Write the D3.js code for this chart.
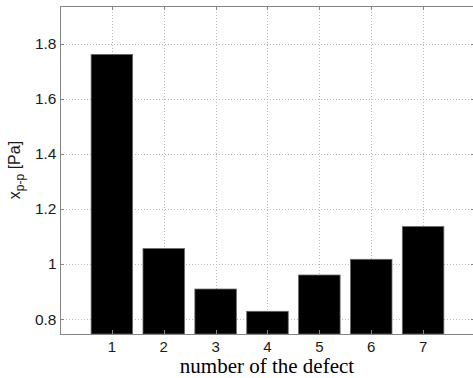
<!DOCTYPE html>
<html><head><meta charset="utf-8">
<script src="https://cdn.jsdelivr.net/npm/d3@7"></script>
<style>body{margin:0;background:#fff}svg{display:block}</style>
</head><body>
<script>
const categories = [1, 2, 3, 4, 5, 6, 7];
const values = [1.762, 1.056, 0.909, 0.828, 0.960, 1.017, 1.136];
const yTicks = [0.8, 1, 1.2, 1.4, 1.6, 1.8];
const yTickLabels = ["0.8", "1", "1.2", "1.4", "1.6", "1.8"];
const xLabel = "number of the defect";

(function () {
const W = 473, H = 378;
const pL = 60, pT = 6, pB = 334, unit = 51.87;
const svg = d3.select("body").append("svg").attr("width", W).attr("height", H);

const x = d3.scaleLinear().domain([0, 8]).range([pL, pL + 8 * unit]);
const y = d3.scaleLinear().domain([0.7455, 1.938]).range([pB, pT]);

const axisColor = "#858585";
const gridColor = "#b8b8b8";

// grid
const g = svg.append("g");
g.selectAll(".gx").data(categories).join("line")
  .attr("x1", d => Math.round(x(d)) + 0.5).attr("x2", d => Math.round(x(d)) + 0.5)
  .attr("y1", pT).attr("y2", pB)
  .attr("stroke", gridColor).attr("stroke-width", 1).attr("stroke-dasharray", "1,2");
g.selectAll(".gy").data(yTicks).join("line")
  .attr("x1", pL).attr("x2", x(8))
  .attr("y1", d => Math.round(y(d)) + 0.5).attr("y2", d => Math.round(y(d)) + 0.5)
  .attr("stroke", gridColor).attr("stroke-width", 1).attr("stroke-dasharray", "1,2");

// bars
const bw = 0.8;
svg.selectAll(".bar").data(categories).join("rect")
  .attr("x", (d) => x(d - bw / 2))
  .attr("width", (d) => x(d + bw / 2) - x(d - bw / 2))
  .attr("y", (d, i) => y(values[i]))
  .attr("height", (d, i) => y(0.7455) - y(values[i]))
  .attr("fill", "#000").attr("stroke", "#666").attr("stroke-width", 0.8);

// axes box
svg.append("rect").attr("x", pL + 0.5).attr("y", pT + 0.5)
  .attr("width", x(8) - pL).attr("height", pB - pT)
  .attr("fill", "none").attr("stroke", axisColor).attr("stroke-width", 1);

// ticks (inward, all sides)
const tl = 4;
categories.forEach(d => {
  const xx = Math.round(x(d)) + 0.5;
  svg.append("line").attr("x1", xx).attr("x2", xx).attr("y1", pB).attr("y2", pB - tl).attr("stroke", axisColor);
  svg.append("line").attr("x1", xx).attr("x2", xx).attr("y1", pT).attr("y2", pT + tl).attr("stroke", axisColor);
});
yTicks.forEach(d => {
  const yy = Math.round(y(d)) + 0.5;
  svg.append("line").attr("x1", pL).attr("x2", pL + tl).attr("y1", yy).attr("y2", yy).attr("stroke", axisColor);
  svg.append("line").attr("x1", x(8)).attr("x2", x(8) - tl).attr("y1", yy).attr("y2", yy).attr("stroke", axisColor);
});

// tick labels
const tickFont = "'Liberation Sans', Arial, sans-serif";
svg.selectAll(".xl").data(categories).join("text")
  .attr("x", d => x(d)).attr("y", 352)
  .attr("text-anchor", "middle").attr("font-family", tickFont).attr("font-size", 15)
  .attr("fill", "#1a1a1a").text(d => d);
svg.selectAll(".yl").data(yTicks).join("text")
  .attr("x", 56.5).attr("y", d => y(d) + 5.5)
  .attr("text-anchor", "end").attr("font-family", tickFont).attr("font-size", 15.5)
  .attr("fill", "#1a1a1a").text((d, i) => yTickLabels[i]);

// x label
svg.append("text").attr("x", x(4) - 0.5).attr("y", 373)
  .attr("text-anchor", "middle").attr("font-family", "'Liberation Serif', 'Times New Roman', serif")
  .attr("font-size", 21).attr("fill", "#000").text(xLabel);

// y label
const yl = svg.append("text").attr("transform", `translate(20,${(pT + pB) / 2}) rotate(-90)`)
  .attr("text-anchor", "middle").attr("font-family", tickFont).attr("font-size", 16).attr("fill", "#1a1a1a");
yl.append("tspan").text("x");
yl.append("tspan").attr("font-size", 12).attr("dy", 4).text("p-p");
yl.append("tspan").attr("dy", -4).text(" [Pa]");
})();
</script>
</body></html>
